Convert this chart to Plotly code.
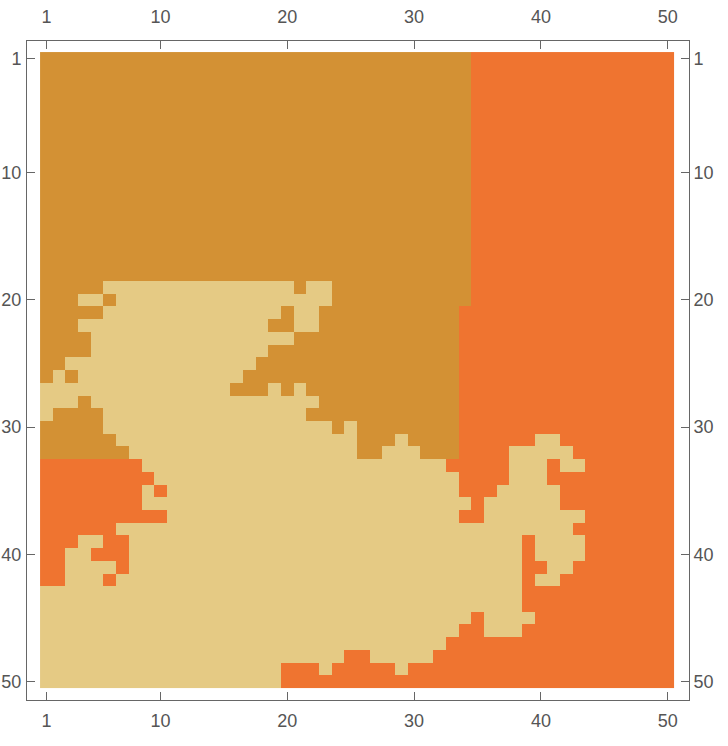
import plotly.graph_objects as go

# Category codes: D = dark ochre, L = light sand, O = orange
codes = {"D": 0, "L": 1, "O": 2}
colors = {"D": "#D39134", "L": "#E5CA84", "O": "#EF7430"}

# Row-by-row run lengths (row 1 at top)
top_rows = [[("D", 34), ("O", 16)]] * 18
rows_19_50 = [
    [("D", 5), ("L", 15), ("D", 1), ("L", 2), ("D", 11), ("O", 16)],            # 19
    [("D", 3), ("L", 2), ("D", 1), ("L", 17), ("D", 11), ("O", 16)],            # 20
    [("D", 5), ("L", 14), ("D", 1), ("L", 2), ("D", 11), ("O", 17)],            # 21
    [("D", 3), ("L", 15), ("D", 2), ("L", 2), ("D", 11), ("O", 17)],            # 22
    [("D", 4), ("L", 16), ("D", 13), ("O", 17)],                                # 23
    [("D", 4), ("L", 14), ("D", 15), ("O", 17)],                                # 24
    [("D", 2), ("L", 15), ("D", 16), ("O", 17)],                                # 25
    [("D", 1), ("L", 1), ("D", 1), ("L", 13), ("D", 17), ("O", 17)],            # 26
    [("L", 15), ("D", 3), ("L", 1), ("D", 1), ("L", 1), ("D", 12), ("O", 17)],  # 27
    [("L", 3), ("D", 1), ("L", 18), ("D", 11), ("O", 17)],                      # 28
    [("L", 1), ("D", 4), ("L", 16), ("D", 12), ("O", 17)],                      # 29
    [("D", 5), ("L", 18), ("D", 1), ("L", 1), ("D", 8), ("O", 17)],             # 30
    [("D", 6), ("L", 19), ("D", 3), ("L", 1), ("D", 4), ("O", 6), ("L", 2), ("O", 9)],   # 31
    [("D", 7), ("L", 18), ("D", 2), ("L", 3), ("D", 3), ("O", 4), ("L", 5), ("O", 8)],   # 32
    [("O", 8), ("L", 24), ("O", 5), ("L", 3), ("O", 1), ("L", 2), ("O", 7)],    # 33
    [("O", 9), ("L", 24), ("O", 4), ("L", 3), ("O", 10)],                       # 34
    [("O", 8), ("L", 1), ("O", 1), ("L", 23), ("O", 3), ("L", 5), ("O", 9)],    # 35
    [("O", 8), ("L", 26), ("O", 1), ("L", 6), ("O", 9)],                        # 36
    [("O", 10), ("L", 23), ("O", 2), ("L", 8), ("O", 7)],                       # 37
    [("O", 6), ("L", 36), ("O", 8)],                                            # 38
    [("O", 3), ("L", 2), ("O", 2), ("L", 31), ("O", 1), ("L", 4), ("O", 7)],    # 39
    [("O", 2), ("L", 2), ("O", 3), ("L", 31), ("O", 1), ("L", 4), ("O", 7)],    # 40
    [("O", 2), ("L", 4), ("O", 1), ("L", 31), ("O", 2), ("L", 2), ("O", 8)],    # 41
    [("O", 2), ("L", 3), ("O", 1), ("L", 32), ("O", 1), ("L", 2), ("O", 9)],    # 42
    [("L", 38), ("O", 12)],                                                     # 43
    [("L", 38), ("O", 12)],                                                     # 44
    [("L", 34), ("O", 1), ("L", 4), ("O", 11)],                                 # 45
    [("L", 33), ("O", 2), ("L", 3), ("O", 12)],                                 # 46
    [("L", 32), ("O", 18)],                                                     # 47
    [("L", 24), ("O", 2), ("L", 5), ("O", 19)],                                 # 48
    [("L", 19), ("O", 3), ("L", 1), ("O", 5), ("L", 1), ("O", 21)],             # 49
    [("L", 19), ("O", 31)],                                                     # 50
]
row_runs = top_rows + rows_19_50

tick_vals = [1, 10, 20, 30, 40, 50]
tick_text = ["1", "10", "20", "30", "40", "50"]

z = []
for i, runs in enumerate(row_runs):
    row = []
    for c, n in runs:
        row += [codes[c]] * n
    assert len(row) == 50, (i + 1, len(row))
    z.append(row)

n = len(z)
xs = list(range(1, 51))
ys = list(range(1, n + 1))

colorscale = [[0.0, colors["D"]], [0.5, colors["L"]], [1.0, colors["O"]]]

fig = go.Figure()
fig.add_trace(go.Heatmap(z=z, x=xs, y=ys, zmin=0, zmax=2, colorscale=colorscale,
                         showscale=False, hoverinfo="skip"))
fig.add_trace(go.Scatter(x=[None], y=[None], xaxis="x2", yaxis="y2",
                         showlegend=False, hoverinfo="skip"))

grey = "#666666"
lab = "#555555"
font = dict(family="Liberation Sans, Arial, sans-serif", size=18, color=lab)
common = dict(tickmode="array", tickvals=tick_vals, ticktext=tick_text,
              ticks="inside", ticklen=8, tickcolor=grey, tickwidth=1,
              showline=True, linecolor=grey, linewidth=1, showgrid=False,
              zeroline=False, tickfont=font, automargin=False)
xr = [-0.53, 51.68]
yr = [51.47, -0.37]

fig.update_layout(
    width=728, height=746,
    margin=dict(l=27, r=39, t=41, b=46, autoexpand=False),
    paper_bgcolor="white", plot_bgcolor="white",
    xaxis=dict(range=xr, side="bottom", ticklabelstandoff=4, **common),
    yaxis=dict(range=yr, side="left", ticklabelstandoff=1, **common),
    xaxis2=dict(range=xr, side="top", overlaying="x", anchor="y",
                ticklabelstandoff=10, **common),
    yaxis2=dict(range=yr, side="right", overlaying="y", anchor="x",
                ticklabelstandoff=0, **common),
    showlegend=False,
)

fig.write_html("out.html", config={"displayModeBar": False},
               post_script="document.body.style.margin='0';document.body.style.overflow='hidden';")
